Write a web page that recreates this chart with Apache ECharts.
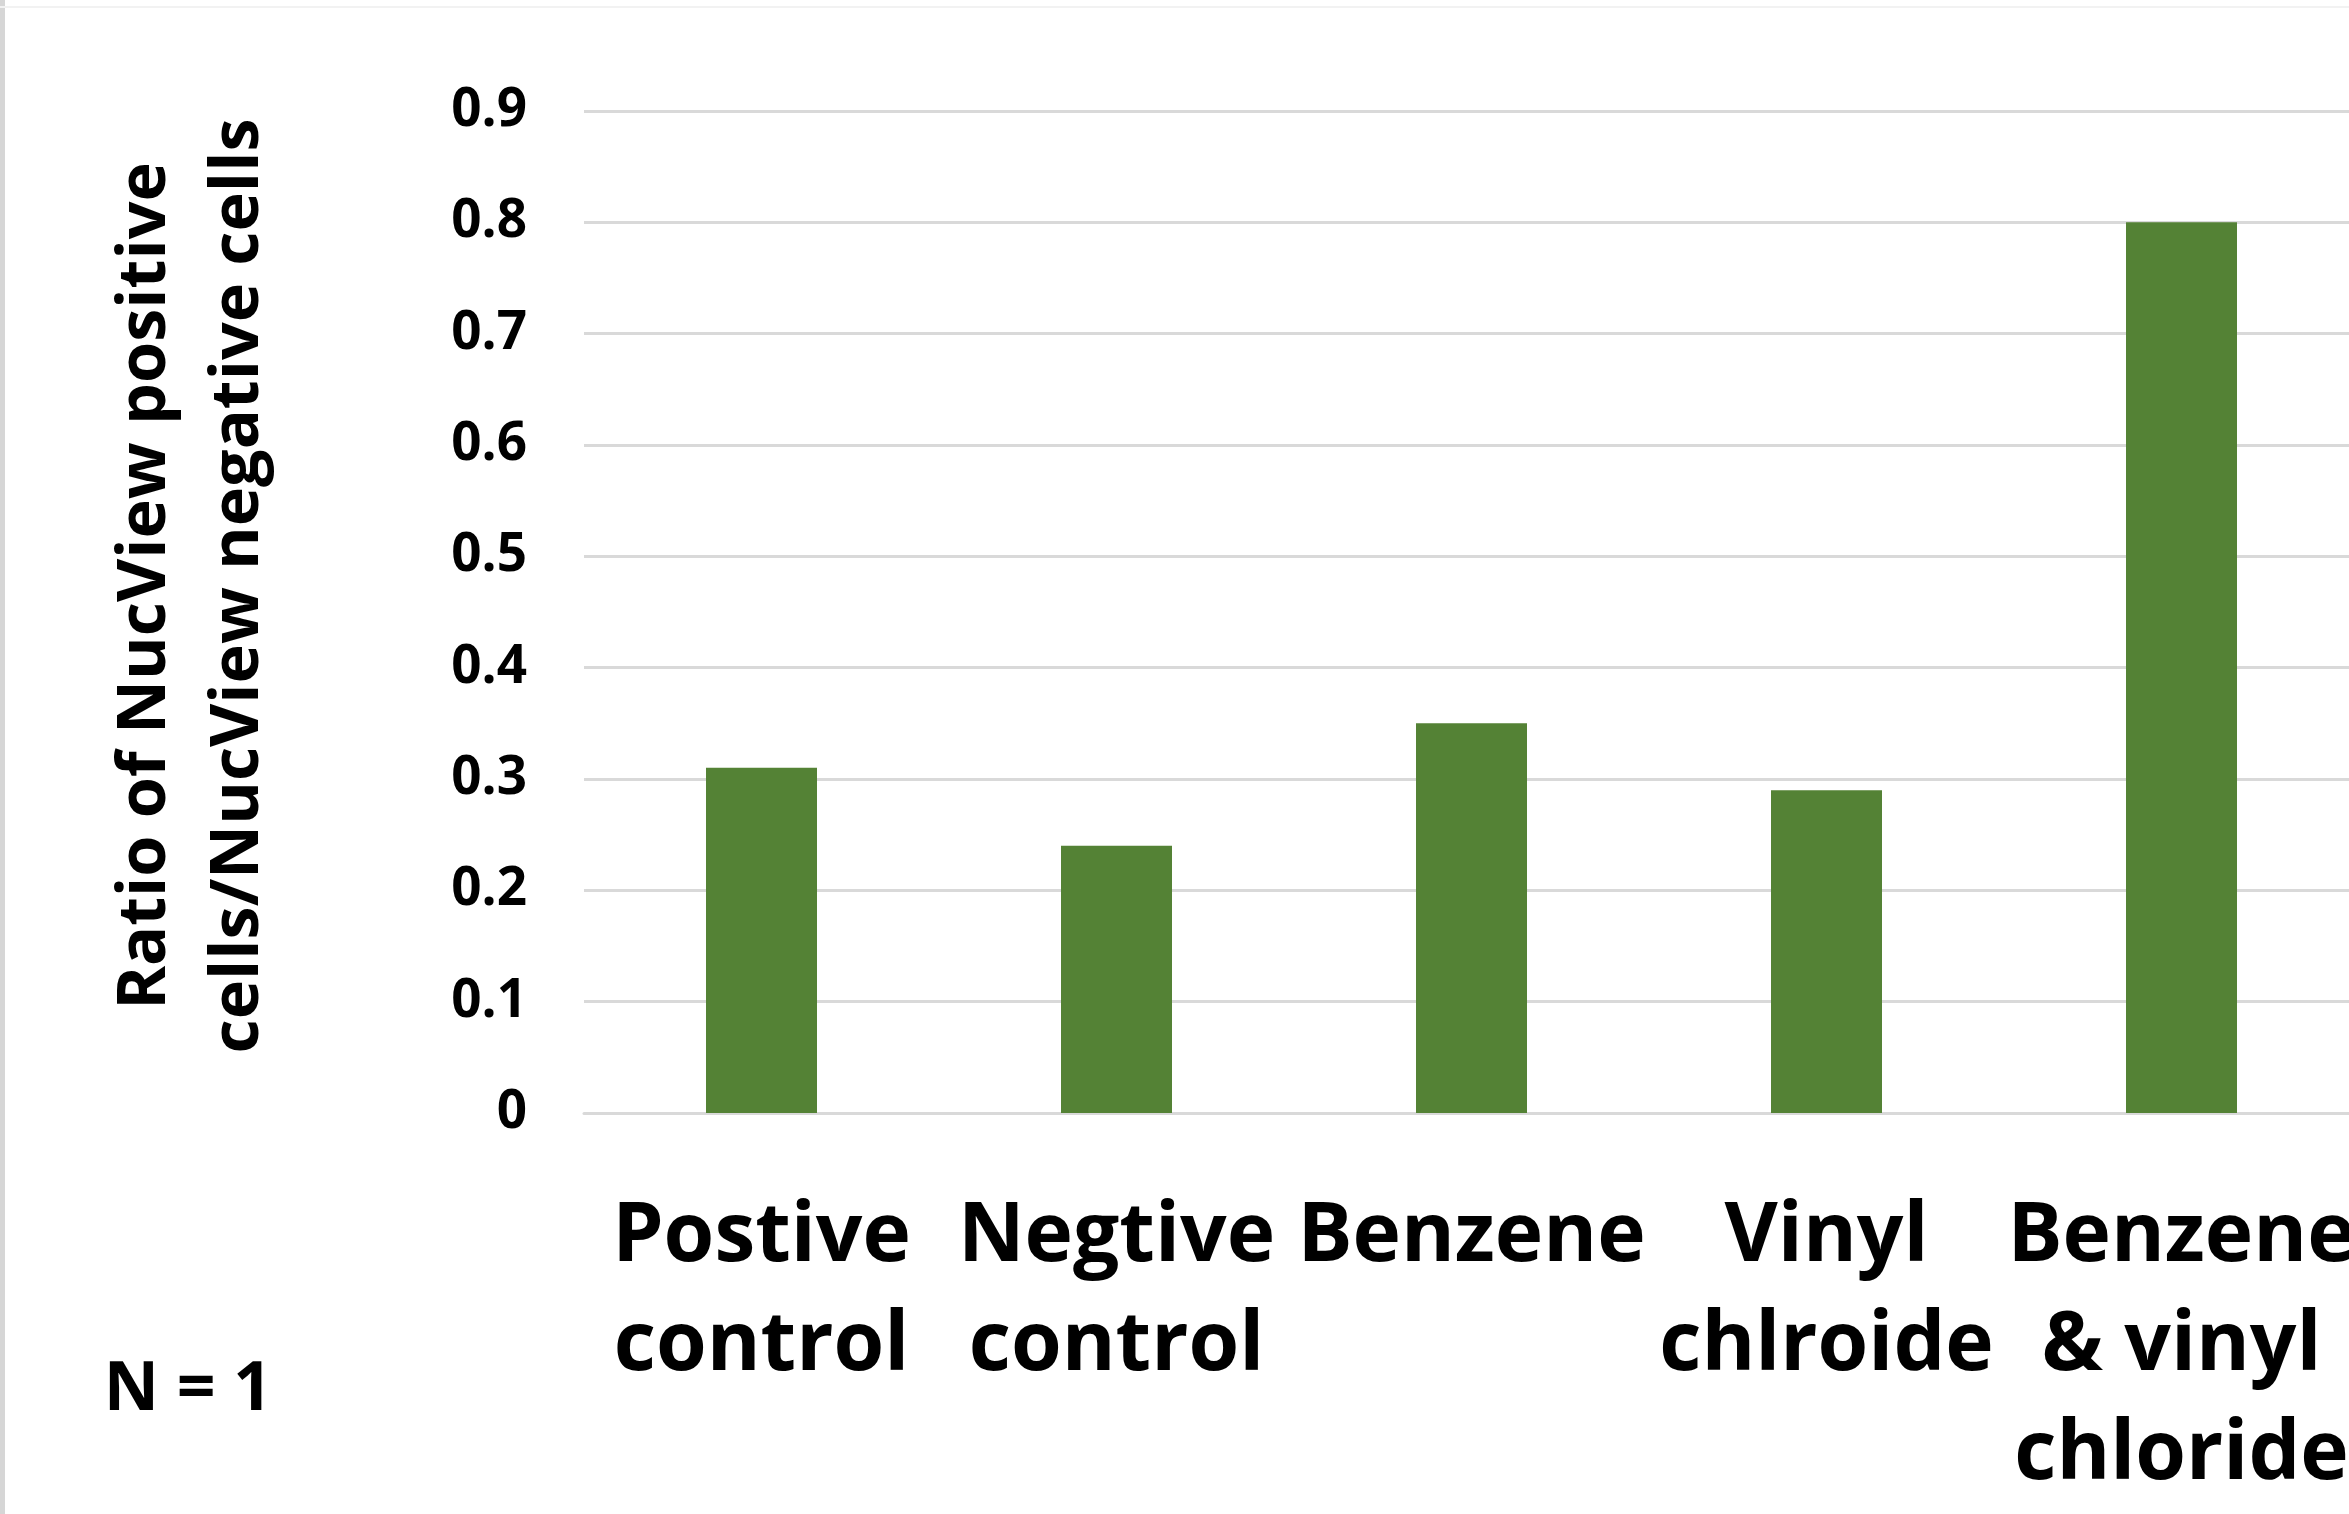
<!DOCTYPE html>
<html>
<head>
<meta charset="utf-8">
<script src="https://cdn.jsdelivr.net/npm/echarts@6/dist/echarts.min.js"></script>
<style>
html,body{margin:0;padding:0;background:#fff;}
#chart{width:2349px;height:1514px;}
</style>
</head>
<body>
<div id="chart"></div>
<script>
const categories = ['Postive\ncontrol', 'Negtive\ncontrol', 'Benzene', 'Vinyl\nchlroide', 'Benzene\n& vinyl\nchloride'];
const ratioValues = [0.31, 0.24, 0.35, 0.29, 0.80];
const yTickMin = 0;
const yTickMax = 0.9;
const yTickStep = 0.1;
const yAxisTitle = 'Ratio of NucView positive\ncells/NucView negative cells';
const noteText = 'N = 1';

const FONT = '"Open Sans", "Noto Sans", sans-serif';
const chart = echarts.init(document.getElementById('chart'), null, {renderer: 'canvas'});
chart.setOption({
  backgroundColor: '#ffffff',
  animation: false,
  grid: {left: 584, top: 111, bottom: 401, width: 1775, containLabel: false, outerBoundsMode: 'none'},
  xAxis: {
    type: 'category',
    data: categories,
    axisLine: {show: true, lineStyle: {color: '#d9d9d9', width: 3}},
    axisTick: {show: false},
    axisLabel: {
      interval: 0,
      margin: 70,
      color: '#000',
      fontFamily: FONT,
      fontWeight: 'bold',
      fontSize: 82,
      lineHeight: 109
    }
  },
  yAxis: {
    type: 'value',
    min: yTickMin,
    max: yTickMax,
    interval: yTickStep,
    axisLine: {show: false},
    axisTick: {show: false},
    splitLine: {lineStyle: {color: '#d9d9d9', width: 3}},
    axisLabel: {
      margin: 57,
      color: '#000',
      fontFamily: FONT,
      fontWeight: 'bold',
      fontSize: 53,
      formatter: v => (Math.round(v * 10) / 10).toString()
    }
  },
  series: [{
    type: 'bar',
    data: ratioValues,
    barWidth: 111,
    itemStyle: {color: '#548235'}
  }],
  graphic: [
    {
      type: 'rect',
      shape: {x: 0, y: 0, width: 5, height: 1514},
      style: {fill: '#d6d6d6'}
    },
    {
      type: 'rect',
      shape: {x: 0, y: 6, width: 2349, height: 2},
      style: {fill: '#f2f2f2'}
    },
    {
      type: 'text',
      x: 193, y: 586,
      rotation: Math.PI / 2,
      style: {
        text: yAxisTitle,
        fontFamily: FONT,
        fontWeight: 'bold',
        fontSize: 66.5,
        lineHeight: 93,
        fill: '#000',
        align: 'center',
        verticalAlign: 'middle'
      }
    },
    {
      type: 'text',
      x: 188, y: 1391,
      style: {
        text: noteText,
        fontFamily: FONT,
        fontWeight: 'bold',
        fontSize: 68,
        fill: '#000',
        align: 'center',
        verticalAlign: 'middle'
      }
    }
  ]
});
</script>
</body>
</html>
